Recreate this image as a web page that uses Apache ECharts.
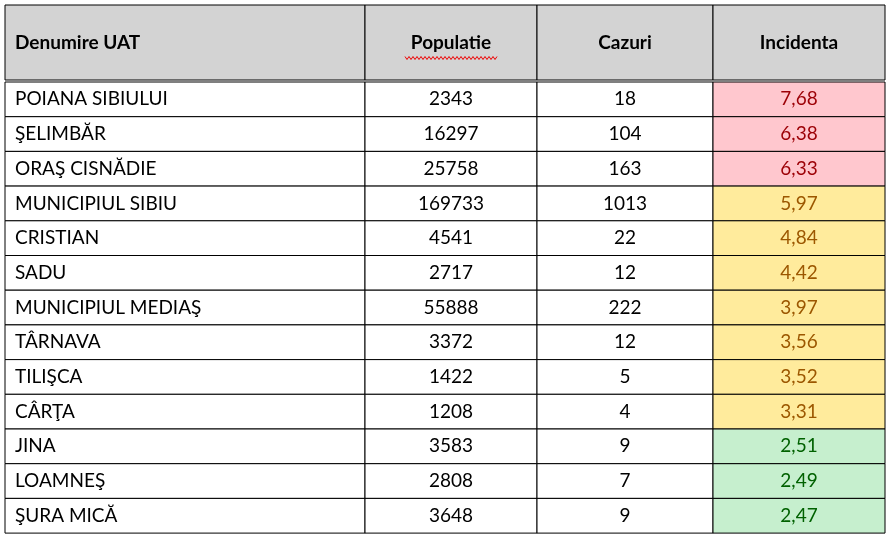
<!DOCTYPE html>
<html><head><meta charset="utf-8">
<script src="https://cdn.jsdelivr.net/npm/echarts@6/dist/echarts.min.js"></script>
<style>html,body{margin:0;background:#fff}#c{width:890px;height:534px}</style>
</head><body><div id="c"></div>
<script>
var headers = ['Denumire UAT', 'Populatie', 'Cazuri', 'Incidenta'];
var uat = ['POIANA SIBIULUI', 'ŞELIMBĂR', 'ORAŞ CISNĂDIE', 'MUNICIPIUL SIBIU', 'CRISTIAN', 'SADU',
  'MUNICIPIUL MEDIAŞ', 'TÂRNAVA', 'TILIŞCA', 'CÂRŢA', 'JINA', 'LOAMNEŞ', 'ŞURA MICĂ'];
var populatie = [2343, 16297, 25758, 169733, 4541, 2717, 55888, 3372, 1422, 1208, 3583, 2808, 3648];
var cazuri = [18, 104, 163, 1013, 22, 12, 222, 12, 5, 4, 9, 7, 9];
var incidenta = [7.68, 6.38, 6.33, 5.97, 4.84, 4.42, 3.97, 3.56, 3.52, 3.31, 2.51, 2.49, 2.47];

// layout (axis units)
var colEdges = [0, 360, 532, 708, 880];
var headH = 75, rowTop = 77, rowH = 34.7;

function band(v) {
  if (v >= 6) return { bg: '#ffc7ce', fg: '#9c0006' };
  if (v >= 3) return { bg: '#ffeb9c', fg: '#9c5700' };
  return { bg: '#c6efce', fg: '#006100' };
}

var cells = [];
headers.forEach(function (h, c) { cells.push([c, -1]); });
uat.forEach(function (u, r) { for (var c = 0; c < 4; c++) cells.push([c, r]); });

function cellText(c, r) {
  if (r < 0) return headers[c];
  if (c === 0) return uat[r];
  if (c === 1) return String(populatie[r]);
  if (c === 2) return String(cazuri[r]);
  return incidenta[r].toFixed(2).replace('.', ',');
}

var chart = echarts.init(document.getElementById('c'));
chart.setOption({
  animation: false,
  grid: { left: 5, right: 5, top: 5, bottom: 1 },
  xAxis: { type: 'value', min: 0, max: 880, show: false },
  yAxis: { type: 'value', min: 0, max: 528, inverse: true, show: false },
  series: [{
    type: 'custom',
    data: cells,
    renderItem: function (params, api) {
      var c = api.value(0), r = api.value(1);
      var y0 = r < 0 ? 0 : rowTop + r * rowH;
      var y1 = r < 0 ? headH : y0 + rowH;
      var p0 = api.coord([colEdges[c], y0]);
      var p1 = api.coord([colEdges[c + 1], y1]);
      var bg = '#fff', fg = '#000';
      if (r < 0) bg = '#d3d3d3';
      else if (c === 3) { var b = band(incidenta[r]); bg = b.bg; fg = b.fg; }
      var left = c === 0;
      var children = [{
        type: 'rect',
        shape: { x: p0[0], y: p0[1], width: p1[0] - p0[0], height: p1[1] - p0[1] },
        style: { fill: bg, stroke: '#000', lineWidth: 1 }
      }, {
        type: 'text',
        x: left ? p0[0] + 10 : (p0[0] + p1[0]) / 2,
        y: r < 0 ? p0[1] + 38 : (p0[1] + p1[1]) / 2,
        style: {
          text: cellText(c, r),
          fill: fg,
          font: (r < 0 ? 'bold ' : '') + '19px Lato, "Liberation Sans", sans-serif',
          align: left ? 'left' : 'center',
          verticalAlign: 'middle'
        }
      }];
      if (r < 0 && c === 1) {
        var pts = [], sx = (p0[0] + p1[0]) / 2 - 46;
        for (var i = 0; i <= 46; i++) pts.push([sx + i * 2, p0[1] + 53 + (i % 2 ? 1.5 : -1.5)]);
        children.push({ type: 'polyline', shape: { points: pts }, style: { stroke: '#e00', lineWidth: 1, fill: null } });
      }
      return { type: 'group', children: children };
    }
  }]
});
</script></body></html>
